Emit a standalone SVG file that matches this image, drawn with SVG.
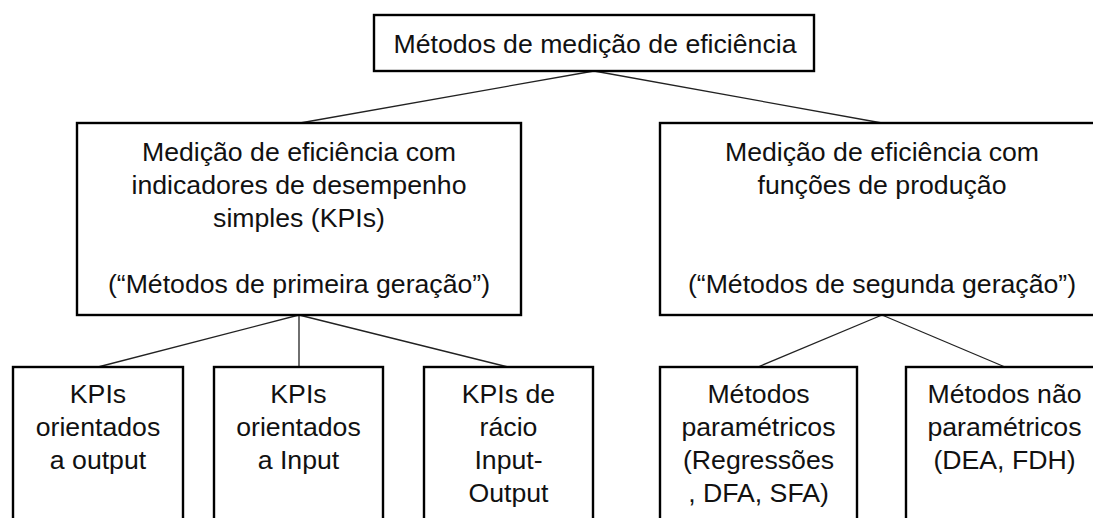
<svg xmlns="http://www.w3.org/2000/svg" width="1093" height="518" viewBox="0 0 1093 518">
<style>
.box{fill:#fff;stroke:#000;stroke-width:2.4}
.t{font-family:"Liberation Sans",Arial,sans-serif;font-size:26.67px;fill:#111;text-anchor:middle}
.c{stroke:#222;stroke-width:1.3;fill:none}
</style>
<rect width="1093" height="518" fill="#fff"/>
<g id="connectors">
<line class="c" x1="594" y1="71" x2="300" y2="123"/>
<line class="c" x1="594" y1="71" x2="882" y2="123"/>
<line class="c" x1="299" y1="315" x2="98" y2="367"/>
<line class="c" x1="299" y1="315" x2="299" y2="367"/>
<line class="c" x1="299" y1="315" x2="508" y2="367"/>
<line class="c" x1="882" y1="315" x2="758" y2="367"/>
<line class="c" x1="882" y1="315" x2="1005" y2="367"/>
</g>
<g id="root">
<rect class="box" x="374" y="15" width="440" height="56"/>
<text class="t" x="595" y="53">Métodos de medição de eficiência</text>
</g>
<g id="kpi">
<rect class="box" x="77" y="123" width="444" height="192"/>
<text class="t" x="299" y="161">Medição de eficiência com</text>
<text class="t" x="299" y="194">indicadores de desempenho</text>
<text class="t" x="299" y="227">simples (KPIs)</text>
<text class="t" x="299" y="293">(“Métodos de primeira geração”)</text>
</g>
<g id="prod">
<rect class="box" x="660" y="123" width="444" height="192"/>
<text class="t" x="882" y="161">Medição de eficiência com</text>
<text class="t" x="882" y="194">funções de produção</text>
<text class="t" x="882" y="293">(“Métodos de segunda geração”)</text>
</g>
<g id="kpi-output">
<rect class="box" x="13" y="367" width="170" height="170"/>
<text class="t" x="98" y="403">KPIs</text>
<text class="t" x="98" y="436">orientados</text>
<text class="t" x="98" y="469">a output</text>
</g>
<g id="kpi-input">
<rect class="box" x="214" y="367" width="169" height="170"/>
<text class="t" x="298.5" y="403">KPIs</text>
<text class="t" x="298.5" y="436">orientados</text>
<text class="t" x="298.5" y="469">a Input</text>
</g>
<g id="kpi-ratio">
<rect class="box" x="424" y="367" width="169" height="170"/>
<text class="t" x="508.5" y="403">KPIs de</text>
<text class="t" x="508.5" y="436">rácio</text>
<text class="t" x="508.5" y="469">Input-</text>
<text class="t" x="508.5" y="502">Output</text>
</g>
<g id="parametric">
<rect class="box" x="660" y="367" width="197" height="170"/>
<text class="t" x="758.5" y="403">Métodos</text>
<text class="t" x="758.5" y="436">paramétricos</text>
<text class="t" x="758.5" y="469">(Regressões</text>
<text class="t" x="758.5" y="502">, DFA, SFA)</text>
</g>
<g id="nonparametric">
<rect class="box" x="906" y="367" width="197" height="170"/>
<text class="t" x="1004.5" y="403">Métodos não</text>
<text class="t" x="1004.5" y="436">paramétricos</text>
<text class="t" x="1004.5" y="469">(DEA, FDH)</text>
</g>
</svg>
